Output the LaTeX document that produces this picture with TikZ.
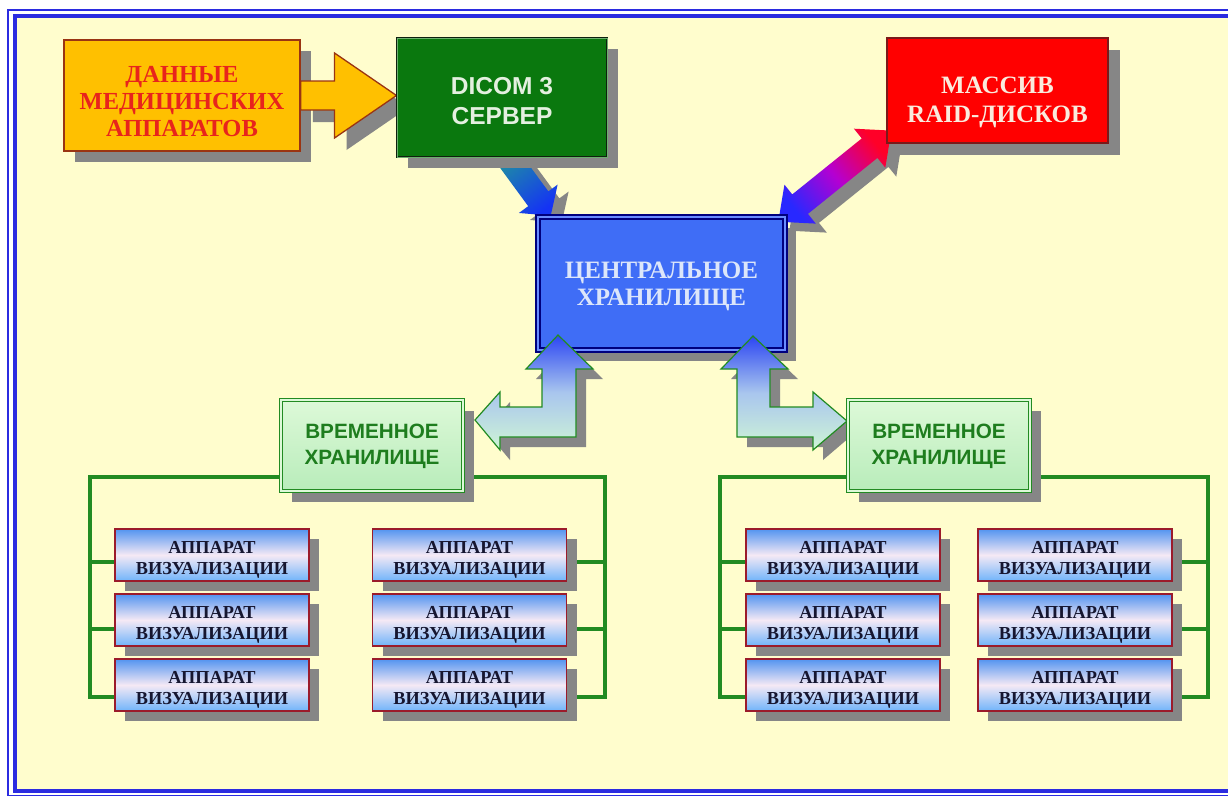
\documentclass[tikz,border=0pt]{standalone}
\usepackage{fontspec}
\setmainfont{Liberation Serif}
\newfontfamily\sansb{Liberation Sans}
\usetikzlibrary{calc,shadows}
\pgfdeclarelayer{bg}
\pgfsetlayers{bg,main}

\definecolor{cream}{HTML}{FFFDCD}
\definecolor{frameblue}{HTML}{2B2BE0}
\definecolor{shgray}{HTML}{868686}
\definecolor{yfill}{HTML}{FFC000}
\definecolor{ybord}{HTML}{9A3412}
\definecolor{ytext}{HTML}{E8241C}
\definecolor{dgreen}{HTML}{0A780E}
\definecolor{dbord}{HTML}{0E200E}
\definecolor{dtext}{HTML}{E4F0E0}
\definecolor{rfill}{HTML}{FF0000}
\definecolor{rbord}{HTML}{7A1A1A}
\definecolor{rtext}{HTML}{FAEBDD}
\definecolor{cfill}{HTML}{3F6DF6}
\definecolor{cbord}{HTML}{00007E}
\definecolor{cinner}{HTML}{6A8CFF}
\definecolor{ctext}{HTML}{DCE6FA}
\definecolor{tgreen}{HTML}{1E7D1E}
\definecolor{ttop}{HTML}{DDF9D8}
\definecolor{tbot}{HTML}{B8ECBA}
\definecolor{lgreen}{HTML}{228B22}
\definecolor{sbord}{HTML}{9B1B2B}
\definecolor{stext}{HTML}{161630}
\definecolor{sbtop}{HTML}{5394F0}
\definecolor{sbmid}{HTML}{F5E9F5}
\definecolor{sbbot}{HTML}{70B4FA}
\definecolor{ateal}{HTML}{1E8CA5}
\definecolor{ablue}{HTML}{1432F5}
\definecolor{rblue}{HTML}{2828FF}
\definecolor{rmag}{HTML}{B400D2}
\definecolor{rred}{HTML}{FF0028}
\definecolor{btop}{HTML}{2C46F2}
\definecolor{bmid}{HTML}{A9C6EE}
\definecolor{bbot}{HTML}{CFF5D5}

% single-headed fat arrow: #1 options, #2 start, #3 tip, #4 half shaft, #5 half head, #6 head length
\newcommand{\fatarrow}[6]{%
  \coordinate (fa-h) at ($(#3)!#6!(#2)$);
  \path[#1] ($(#2)!#4!90:(#3)$) -- ($(fa-h)!#4!-90:(#2)$) -- ($(fa-h)!#5!-90:(#2)$)
     -- (#3) -- ($(fa-h)!#5!90:(#2)$) -- ($(fa-h)!#4!90:(#2)$) -- ($(#2)!#4!-90:(#3)$) -- cycle;}
% double-headed fat arrow
\newcommand{\fatdarrow}[6]{%
  \coordinate (fa-h1) at ($(#2)!#6!(#3)$);
  \coordinate (fa-h2) at ($(#3)!#6!(#2)$);
  \path[#1] (#2) -- ($(fa-h1)!#5!90:(#3)$) -- ($(fa-h1)!#4!90:(#3)$)
     -- ($(fa-h2)!#4!-90:(#2)$) -- ($(fa-h2)!#5!-90:(#2)$) -- (#3)
     -- ($(fa-h2)!#5!90:(#2)$) -- ($(fa-h2)!#4!90:(#2)$)
     -- ($(fa-h1)!#4!-90:(#3)$) -- ($(fa-h1)!#5!-90:(#3)$) -- cycle;}

\tikzset{
  shadowed/.style={drop shadow={shadow xshift=#1, shadow yshift=-#1, fill=shgray, opacity=1}},
  shadowed/.default=11pt,
  boxbase/.style={inner sep=0pt, align=center},
  txt/.style={align=center, inner sep=0pt},
  yellowbox/.style={boxbase, shadowed, minimum width=236pt, minimum height=111pt,
     fill=yfill, draw=ybord, line width=1.5pt},
  ytxt/.style={txt, text=ytext, yshift=-6pt, font=\fontsize{24.5}{27}\selectfont\bfseries},
  dicombox/.style={boxbase, shadowed, minimum width=210pt, minimum height=119pt,
     fill=dgreen, draw=dbord, double=dgreen!60!white, double distance=0.8pt, line width=1pt},
  dtxt/.style={txt, text=dtext, yshift=-3.5pt, font=\sansb\fontsize{24.5}{30}\selectfont\bfseries},
  raidbox/.style={boxbase, shadowed=12pt, minimum width=221pt, minimum height=105pt,
     fill=rfill, draw=rbord, line width=1.2pt},
  rtxt/.style={txt, text=rtext, yshift=-12pt, font=\fontsize{25}{29}\selectfont\bfseries},
  centralbox/.style={boxbase, shadowed, minimum width=247pt, minimum height=133pt,
     fill=cfill, draw=cbord, double=cinner, double distance=1.5pt, line width=2.6pt},
  ctxt/.style={txt, text=ctext, yshift=-3pt, font=\fontsize{25}{27}\selectfont\bfseries},
  tempbox/.style={boxbase, shadowed=11pt, minimum width=182pt, minimum height=91pt,
     top color=ttop, bottom color=tbot, draw=lgreen, double=ttop, double distance=1.5pt,
     line width=1.3pt},
  ttxt/.style={txt, text=tgreen, yshift=-1pt, font=\sansb\fontsize{20.7}{26}\selectfont\bfseries},
  smallbox/.style={boxbase, shadowed=10pt, minimum width=194pt, minimum height=52pt,
     top color=sbtop, bottom color=sbbot, middle color=sbmid, draw=sbord, line width=1.2pt},
  stxt/.style={txt, text=stext, yshift=-4.5pt, font=\fontsize{18.3}{21}\selectfont\bfseries},
  conn/.style={draw=lgreen, line width=3.2pt},
  bentarrow/.style={draw=lgreen, line width=1.2pt, top color=btop, bottom color=bbot, middle color=bmid},
  arrowshadow/.style={fill=shgray, transform canvas={shift={(#1)}}},
}

\begin{document}
\begin{tikzpicture}[x=1pt,y=-1pt]
\useasboundingbox (0,0) rectangle (1228,796);
\clip (0,0) rectangle (1228,796);

% ---------- main layer nodes ----------
\node[dicombox, label={[dtxt]center:{DICOM 3\\СЕРВЕР}}] (dicom) at (502,97.5) {};
\node[raidbox, label={[rtxt]center:{МАССИВ\\RAID-ДИСКОВ}}] (raid) at (997.5,90.5) {};
\node[centralbox, label={[ctxt]center:{ЦЕНТРАЛЬНОЕ\\ХРАНИЛИЩЕ}}] (central) at (661.5,283.5) {};

% bent arrows (drawn over central storage)
\path[arrowshadow={10,10}] (558,335) -- (593,369) -- (576,369) -- (576,437) -- (500,437) -- (500,450)
  -- (475,420) -- (500,392) -- (500,407) -- (542,407) -- (542,369) -- (526,369) -- cycle;
\path[bentarrow] (558,335) -- (593,369) -- (576,369) -- (576,437) -- (500,437) -- (500,450)
  -- (475,420) -- (500,392) -- (500,407) -- (542,407) -- (542,369) -- (526,369) -- cycle;
\path[arrowshadow={10,10}] (753,336) -- (788,369) -- (770,369) -- (770,407) -- (813,407) -- (813,392)
  -- (847,421) -- (813,450) -- (813,437) -- (737,437) -- (737,369) -- (721,369) -- cycle;
\path[bentarrow] (753,336) -- (788,369) -- (770,369) -- (770,407) -- (813,407) -- (813,392)
  -- (847,421) -- (813,450) -- (813,437) -- (737,437) -- (737,369) -- (721,369) -- cycle;

\node[tempbox, label={[ttxt]center:{ВРЕМЕННОЕ\\ХРАНИЛИЩЕ}}] (tempL) at (372,445.5) {};
\node[tempbox, label={[ttxt]center:{ВРЕМЕННОЕ\\ХРАНИЛИЩЕ}}] (tempR) at (939,445.5) {};

\foreach \r/\y in {1/555,2/620,3/685} {
  \node[smallbox, label={[stxt]center:{АППАРАТ\\ВИЗУАЛИЗАЦИИ}}] (L\r1) at (212,\y) {};
  \node[smallbox, label={[stxt]center:{АППАРАТ\\ВИЗУАЛИЗАЦИИ}}] (L\r2) at (469.5,\y) {};
  \node[smallbox, label={[stxt]center:{АППАРАТ\\ВИЗУАЛИЗАЦИИ}}] (R\r1) at (843,\y) {};
  \node[smallbox, label={[stxt]center:{АППАРАТ\\ВИЗУАЛИЗАЦИИ}}] (R\r2) at (1075,\y) {};
}

% ---------- background layer ----------
\begin{pgfonlayer}{bg}
\fill[white] (0,0) rectangle (1228,796);
\fill[cream] (15,16) rectangle (1240,790);
\draw[frameblue, line width=1.6pt] (8,10) rectangle (1260,795.5);
\draw[frameblue, line width=4pt] (14.5,15.5) rectangle (1255,791);

\node[yellowbox, label={[ytxt]center:{ДАННЫЕ\\МЕДИЦИНСКИХ\\АППАРАТОВ}}] (yellow) at (182,95.5) {};
\coordinate (yt) at (dicom.west |- yellow.east);
\fatarrow{arrowshadow={12,12}}{yellow.east}{yt}{14.5pt}{42.5pt}{62pt}
\fatarrow{fill=yfill, draw=ybord, line width=1.3pt}{yellow.east}{yt}{14.5pt}{42.5pt}{62pt}

\coordinate (ds) at ($(dicom.south)+(6,0)$);
\coordinate (de) at ($(central.north west)+(14,0)$);
\fatarrow{arrowshadow={11,7}}{ds}{de}{12.5pt}{24pt}{21pt}
\fatarrow{shade, top color=ateal, bottom color=ablue, shading angle=37}{ds}{de}{12.5pt}{24pt}{21pt}

\coordinate (rs) at ($(central.north east)+(-8,6)$);
\coordinate (re) at ($(raid.south west)+(5,-13)$);
\fatdarrow{arrowshadow={11,9}}{rs}{re}{12.5pt}{25pt}{28pt}
\fatdarrow{shade, top color=rred, bottom color=rblue, middle color=rmag, shading angle=-51}{rs}{re}{12.5pt}{25pt}{28pt}

% green connectors
\coordinate (bl1) at (90,477);   \coordinate (bl2) at (90,697);
\coordinate (br1) at (605,477);  \coordinate (br2) at (605,697);
\coordinate (cl1) at (720,477);  \coordinate (cl2) at (720,697);
\coordinate (cr1) at (1208,477); \coordinate (cr2) at (1208,697);
\draw[conn] (tempL.west |- bl1) -- (bl1) -- (bl2) -- (L31.west |- bl2);
\draw[conn] (tempL.east |- br1) -- (br1) -- (br2) -- (L32.east |- br2);
\draw[conn] (tempR.west |- cl1) -- (cl1) -- (cl2) -- (R31.west |- cl2);
\draw[conn] (tempR.east |- cr1) -- (cr1) -- (cr2) -- (R32.east |- cr2);
\foreach \r/\dy in {1/7,2/9} {
  \path ($(L\r1.west)+(0,\dy)$) coordinate (t1) ($(L\r2.east)+(0,\dy)$) coordinate (t2)
        ($(R\r1.west)+(0,\dy)$) coordinate (t3) ($(R\r2.east)+(0,\dy)$) coordinate (t4);
  \draw[conn] (t1) -- (t1 -| bl1);
  \draw[conn] (t2) -- (t2 -| br1);
  \draw[conn] (t3) -- (t3 -| cl1);
  \draw[conn] (t4) -- (t4 -| cr1);
}
\end{pgfonlayer}
\end{tikzpicture}
\end{document}
